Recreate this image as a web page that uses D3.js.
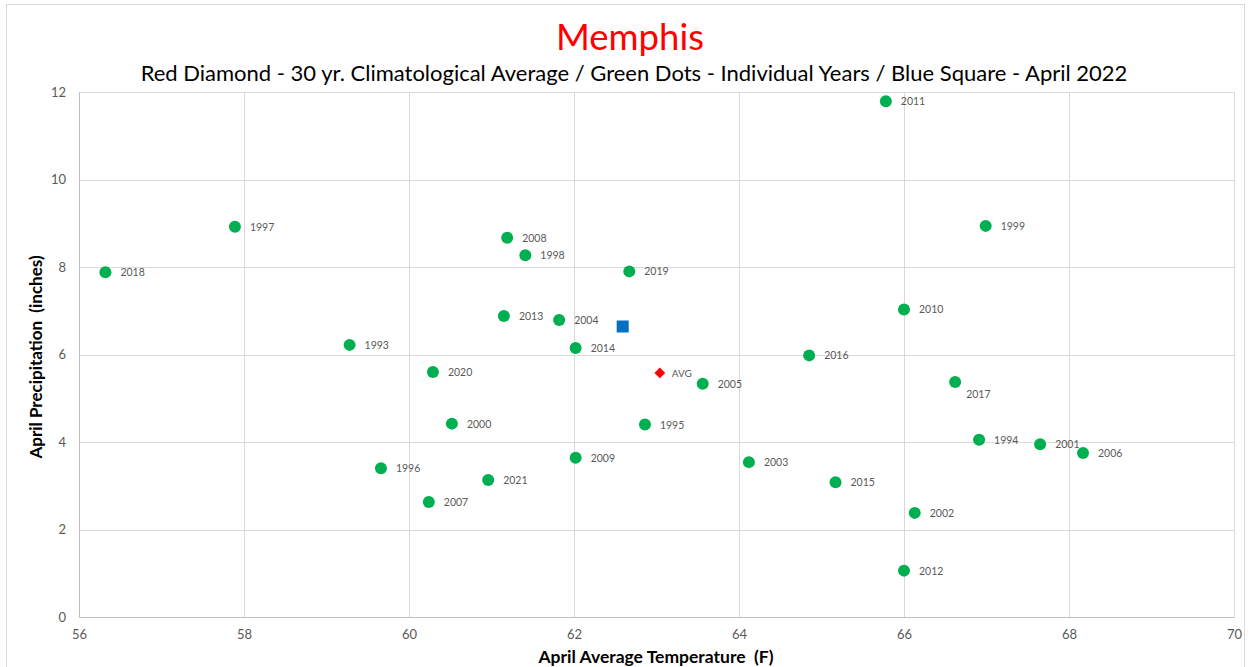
<!DOCTYPE html>
<html>
<head>
<meta charset="utf-8">
<script src="https://cdn.jsdelivr.net/npm/d3@7"></script>
<style>
  html, body { margin: 0; padding: 0; background: #fff; }
  svg { display: block; }
  text { font-family: Lato, "Open Sans", sans-serif; }
</style>
</head>
<body>
<svg id="chart" width="1251" height="667"></svg>
<script>
// ---- data ----
const years = [1993, 1994, 1995, 1996, 1997, 1998, 1999, 2000, 2001, 2002,
               2003, 2004, 2005, 2006, 2007, 2008, 2009, 2010, 2011, 2012,
               2013, 2014, 2015, 2016, 2017, 2018, 2019, 2020, 2021];
const temps = [59.28, 66.91, 62.86, 59.66, 57.89, 61.41, 66.99, 60.52, 67.65, 66.13,
               64.12, 61.82, 63.56, 68.17, 60.24, 61.19, 62.02, 66.00, 65.78, 66.00,
               61.15, 62.02, 65.17, 64.85, 66.62, 56.32, 62.67, 60.29, 60.96];
const precips = [6.22, 4.05, 4.40, 3.40, 8.92, 8.27, 8.94, 4.42, 3.95, 2.38,
                 3.54, 6.79, 5.33, 3.75, 2.63, 8.67, 3.64, 7.03, 11.79, 1.06,
                 6.88, 6.15, 3.08, 5.98, 5.37, 7.88, 7.90, 5.60, 3.13];
const avgPoint = { label: "AVG", temp: 63.04, precip: 5.58 };
const currentPoint = { label: "April 2022", temp: 62.59, precip: 6.64 };
const xTicks = [56, 58, 60, 62, 64, 66, 68, 70];
const yTicks = [0, 2, 4, 6, 8, 10, 12];
const titleText = "Memphis";
const subtitleText = "Red Diamond - 30 yr. Climatological Average / Green Dots - Individual Years / Blue Square - April 2022";
const xTitle = "April Average Temperature  (F)";
const yTitle = "April Precipitation  (inches)";
const belowLabels = [2017]; // labels placed below-right of their dot

// ---- layout ----
const W = 1251, H = 667;
const plot = { left: 79, right: 1234, top: 92, bottom: 617 };
const svg = d3.select("#chart");

// chart border
svg.append("rect").attr("x", 6.5).attr("y", 4.5).attr("width", 1238).attr("height", 670)
  .attr("fill", "#fff").attr("stroke", "#d9d9d9").attr("stroke-width", 1);

const x = d3.scaleLinear().domain([56, 70]).range([plot.left, plot.right]);
const y = d3.scaleLinear().domain([0, 12]).range([plot.bottom, plot.top]);

// gridlines
const grid = svg.append("g");
grid.selectAll("line.v").data(xTicks).join("line")
  .attr("x1", d => Math.round(x(d)) + 0.5).attr("x2", d => Math.round(x(d)) + 0.5)
  .attr("y1", plot.top).attr("y2", plot.bottom)
  .attr("stroke", "#d9d9d9").attr("stroke-width", 1);
grid.selectAll("line.h").data(yTicks).join("line")
  .attr("y1", d => Math.round(y(d)) + 0.5).attr("y2", d => Math.round(y(d)) + 0.5)
  .attr("x1", plot.left).attr("x2", plot.right)
  .attr("stroke", "#d9d9d9").attr("stroke-width", 1);

// axes
const xAxis = d3.axisBottom(x).tickValues(xTicks).tickSize(0).tickPadding(13);
const gx = svg.append("g").attr("transform", `translate(0,${plot.bottom})`).call(xAxis);
gx.select(".domain").attr("stroke", "#bfbfbf");
gx.selectAll("text").attr("fill", "#595959").style("font-size", "13px");

const yAxis = d3.axisLeft(y).tickValues(yTicks).tickSize(0).tickPadding(13);
const gy = svg.append("g").attr("transform", `translate(${plot.left},0)`).call(yAxis);
gy.select(".domain").attr("stroke", "#bfbfbf");
gy.selectAll("text").attr("fill", "#595959").style("font-size", "13px");

// titles
svg.append("text").attr("x", 630).attr("y", 50).attr("text-anchor", "middle")
  .attr("fill", "#ff0000").style("font-size", "36.5px").text(titleText);
svg.append("text").attr("x", 634).attr("y", 81).attr("text-anchor", "middle")
  .attr("fill", "#000").style("font-size", "22px").text(subtitleText);
svg.append("text").attr("x", 656).attr("y", 663).attr("text-anchor", "middle")
  .attr("fill", "#000").style("font-size", "17.5px").style("font-weight", "bold")
  .style("white-space", "pre").text(xTitle);
svg.append("text").attr("transform", "translate(42,357) rotate(-90)").attr("text-anchor", "middle")
  .attr("fill", "#000").style("font-size", "17px").style("font-weight", "bold")
  .style("white-space", "pre").text(yTitle);

// data points
const pts = years.map((yr, i) => ({ year: yr, temp: temps[i], precip: precips[i] }));
const gp = svg.append("g");
gp.selectAll("circle").data(pts).join("circle")
  .attr("cx", d => x(d.temp)).attr("cy", d => y(d.precip)).attr("r", 6)
  .attr("fill", "#00b050");
gp.selectAll("text").data(pts).join("text")
  .attr("x", d => x(d.temp) + (belowLabels.includes(d.year) ? 11 : 15))
  .attr("y", d => y(d.precip) + (belowLabels.includes(d.year) ? 16 : 4))
  .attr("fill", "#595959").style("font-size", "10.5px").text(d => d.year);

// average diamond
const ax = x(avgPoint.temp), ay = y(avgPoint.precip);
svg.append("path").attr("d", d3.symbol().type(d3.symbolDiamond2).size(75)())
  .attr("transform", `translate(${ax},${ay})`).attr("fill", "#ff0000");
svg.append("text").attr("x", ax + 12).attr("y", ay + 4).attr("fill", "#595959")
  .style("font-size", "10px").text(avgPoint.label);

// current year square
const sz = 12;
svg.append("rect").attr("x", x(currentPoint.temp) - sz / 2).attr("y", y(currentPoint.precip) - sz / 2)
  .attr("width", sz).attr("height", sz).attr("fill", "#0070c0");
</script>
</body>
</html>
